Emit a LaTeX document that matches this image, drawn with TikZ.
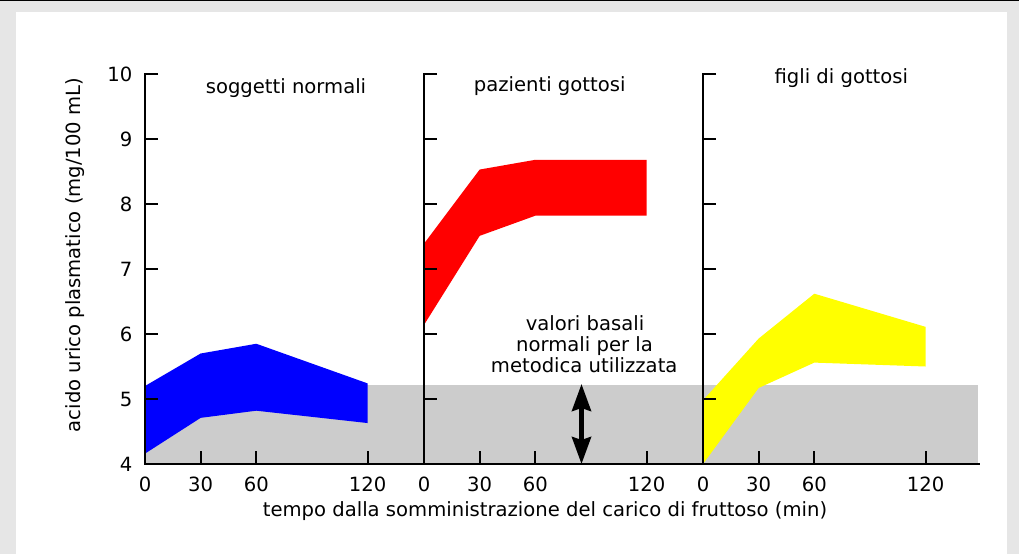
\documentclass[tikz,border=0pt]{standalone}
\usepackage{fontspec}
\setmainfont{DejaVu Sans}
\usetikzlibrary{arrows.meta}
\definecolor{framegray}{HTML}{E6E6E6}
\definecolor{bandgray}{HTML}{CCCCCC}
\definecolor{bblue}{HTML}{0000FF}
\definecolor{rred}{HTML}{FF0000}
\definecolor{yyellow}{HTML}{FFFF00}
\begin{document}
\begin{tikzpicture}[x=1pt,y=-1pt,
  lbl/.style={font=\fontsize{19.6}{22}\selectfont, inner sep=0pt},
  axisline/.style={line width=2pt, line cap=butt},
  band/.style={fill=bandgray},
  basalarrow/.style={line width=4.5pt, {Stealth[length=27pt,width=19pt,inset=3pt]}-{Stealth[length=27pt,width=19pt,inset=3pt]}}
]
\useasboundingbox (0,0) rectangle (1019,554);
% frame
\fill[framegray] (0,0) rectangle (1019,554);
\fill[white] (16,12) rectangle (1006.5,554);
\draw[line width=1pt] (0,0.5) -- (1019,0.5);
% normal band
\fill[band] (145,385) rectangle (978,464);
% data areas (data coordinates: minutes, mg/100 mL)
\begin{scope}[shift={(145,724)}, x=1.855pt, y=65pt]
  \fill[bblue] (0,5.2) -- (30,5.7) -- (60,5.85) -- (120,5.24) -- (120,4.63) -- (60,4.82) -- (30,4.71) -- (0,4.16) -- cycle;
\end{scope}
\begin{scope}[shift={(424,724)}, x=1.855pt, y=65pt]
  \fill[rred] (0,7.39) -- (30,8.53) -- (60,8.68) -- (120,8.68) -- (120,7.82) -- (60,7.82) -- (30,7.51) -- (0,6.14) -- cycle;
\end{scope}
\begin{scope}[shift={(703,724)}, x=1.855pt, y=65pt]
  \fill[yyellow] (0,4.98) -- (30,5.93) -- (60,6.62) -- (120,6.11) -- (120,5.5) -- (60,5.56) -- (30,5.17) -- (0,4.0) -- cycle;
\end{scope}
% axes
\draw[axisline] (144,464) -- (980,464);
\foreach \ox in {145,424,703}{
  \draw[axisline, line join=miter] (\ox+13,74) -- (\ox,74) -- (\ox,465);
  \foreach \v in {1,...,5}{
    \draw[axisline] (\ox,{464-65*\v}) -- ++(13,0);
  }
  \foreach \t in {30,60,120}{
    \draw[axisline] ({\ox+1.855*\t},464) -- ++(0,-13);
  }
}
% y tick labels
\foreach \v in {4,...,10}{
  \node[lbl, anchor=east] (yl\v) at (132.5,{464-65*(\v-4)}) {\v};
}
% x tick labels
\foreach \ox/\p in {145/a,424/b,703/c}{
  \node[lbl] (x0\p) at (\ox,484) {0};
  \node[lbl] (x30\p) at ({\ox+1.855*30},484) {30};
  \node[lbl] (x60\p) at ({\ox+1.855*60},484) {60};
  \node[lbl] (x120\p) at ({\ox+1.855*120},484) {120};
}
% titles
\node[lbl, anchor=base] (t1) at (286,93.3) {soggetti normali};
\node[lbl, anchor=base] (t2) at (549.7,91.7) {pazienti gottosi};
\node[lbl, anchor=base] (t3) at (841.3,83.3) {figli di gottosi};
% axis labels
\node[lbl, anchor=base] (xlab) at (545,516) {tempo dalla somministrazione del carico di fruttoso (min)};
\node[lbl, anchor=base, rotate=90] (ylab) at (80,255) {acido urico plasmatico (mg/100 mL)};
% basal annotation
\node[lbl, anchor=base] (b1) at (585,330.7) {valori basali};
\node[lbl, anchor=base] (b2) at (584.5,351.7) {normali per la};
\node[lbl, anchor=base] (b3) at (584.2,372.7) {metodica utilizzata};
\coordinate (arrTop) at (581.5,384);
\coordinate (arrBot) at (581.5,464);
\draw[basalarrow] (arrTop) -- (arrBot);
\end{tikzpicture}
\end{document}
